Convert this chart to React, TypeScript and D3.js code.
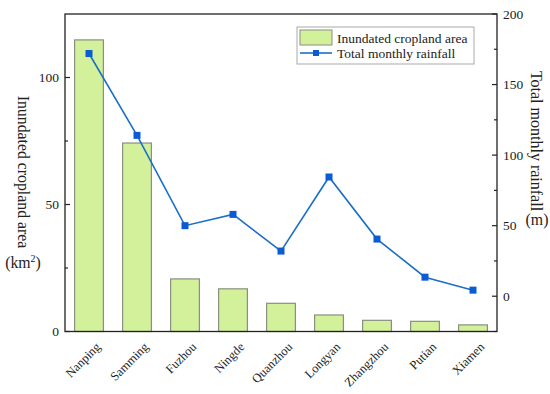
import React from "react";
import * as d3 from "d3";

const categories = ["Nanping", "Samming", "Fuzhou", "Ningde", "Quanzhou", "Longyan", "Zhangzhou", "Putian", "Xiamen"];
const croplandArea = [114.8, 74.2, 20.7, 16.8, 11.1, 6.5, 4.4, 4.0, 2.6];
const rainfall = [172, 114, 50, 58, 32, 84.5, 40.5, 13.5, 4.3];
const leftTicks = [0, 50, 100];
const leftMinor = [25, 75];
const rightTicks = [0, 50, 100, 150, 200];
const rightMinor = [-25, 25, 75, 125, 175];

const W = 550, H = 394;
const M = { left: 65, right: 497, top: 14, bottom: 331.5 };
const FONT = "'Liberation Serif', 'Times New Roman', serif";

export default function App() {
  const x = d3.scaleBand<string>().domain(categories).range([M.left, M.right]).paddingInner(0.4).paddingOuter(0.2);
  const yL = d3.scaleLinear().domain([0, 125]).range([M.bottom, M.top]);
  const yR = d3.scaleLinear().domain([-25, 200]).range([M.bottom, M.top]);
  const line = d3.line<number>()
    .x((_, i) => x(categories[i])! + x.bandwidth() / 2)
    .y((d) => yR(d));
  const ms = 7;
  return (
    <svg width={W} height={H} style={{ position: "absolute", left: 0, top: 0, fontFamily: FONT }}>
      <rect width={W} height={H} fill="#fff" />
      {categories.map((c, i) => (
        <rect key={c} x={x(c)} y={yL(croplandArea[i])} width={x.bandwidth()} height={yL(0) - yL(croplandArea[i])}
          fill="#d3f19b" stroke="#8a8f80" strokeWidth={1.2} />
      ))}
      <path d={line(rainfall)!} fill="none" stroke="#1b6fc8" strokeWidth={1.6} />
      {rainfall.map((v, i) => (
        <rect key={i} x={x(categories[i])! + x.bandwidth() / 2 - ms / 2} y={yR(v) - ms / 2} width={ms} height={ms} fill="#0b5bd3" />
      ))}
      <rect x={M.left} y={M.top} width={M.right - M.left} height={M.bottom - M.top} fill="none" stroke="#222" strokeWidth={1.3} />
      {leftTicks.map((t) => (
        <g key={t}>
          <line x1={M.left} x2={M.left + 5} y1={yL(t)} y2={yL(t)} stroke="#222" strokeWidth={1.2} />
          <text x={M.left - 6} y={yL(t)} dy="0.35em" textAnchor="end" fontSize={13.5} fill="#222">{t}</text>
        </g>
      ))}
      {leftMinor.map((t) => (
        <line key={t} x1={M.left} x2={M.left + 3} y1={yL(t)} y2={yL(t)} stroke="#222" strokeWidth={1.2} />
      ))}
      {rightTicks.map((t) => (
        <g key={t}>
          <line x1={M.right} x2={M.right - 5} y1={yR(t)} y2={yR(t)} stroke="#222" strokeWidth={1.2} />
          <text x={M.right + 6} y={yR(t)} dy="0.35em" textAnchor="start" fontSize={13.5} fill="#222">{t}</text>
        </g>
      ))}
      {rightMinor.map((t) => (
        <line key={t} x1={M.right} x2={M.right - 3} y1={yR(t)} y2={yR(t)} stroke="#222" strokeWidth={1.2} />
      ))}
      {categories.map((c) => {
        const cx = x(c)! + x.bandwidth() / 2 + 6;
        return (
          <text key={c} transform={`translate(${cx},${M.bottom + 10}) rotate(-45)`} textAnchor="end" dy="0.7em" fontSize={12.5} fill="#222">{c}</text>
        );
      })}
      <text transform={`translate(${18},${172}) rotate(90)`} textAnchor="middle" fontSize={15.8} fill="#222">Inundated cropland area</text>
      <text x={23} y={268} textAnchor="middle" fontSize={15.8} fill="#222">(km<tspan dy={-6} fontSize={10}>2</tspan><tspan dy={6}>)</tspan></text>
      <text transform={`translate(${531},${141}) rotate(90)`} textAnchor="middle" fontSize={16} fill="#222">Total monthly rainfall</text>
      <text x={537} y={225} textAnchor="middle" fontSize={15.8} fill="#222">(m)</text>
      <g>
        <rect x={297} y={27} width={177} height={37} fill="#fff" stroke="#aaa" strokeWidth={1} />
        <rect x={300} y={30} width={32} height={15} fill="#d3f19b" stroke="#8a8f80" strokeWidth={1} />
        <text x={337} y={42.5} fontSize={13.5} fill="#222">Inundated cropland area</text>
        <line x1={300} x2={332} y1={53} y2={53} stroke="#1b6fc8" strokeWidth={1.6} />
        <rect x={316 - 3} y={50} width={6} height={6} fill="#0b5bd3" />
        <text x={337} y={57.5} fontSize={13.5} fill="#222">Total monthly rainfall</text>
      </g>
    </svg>
  );
}
